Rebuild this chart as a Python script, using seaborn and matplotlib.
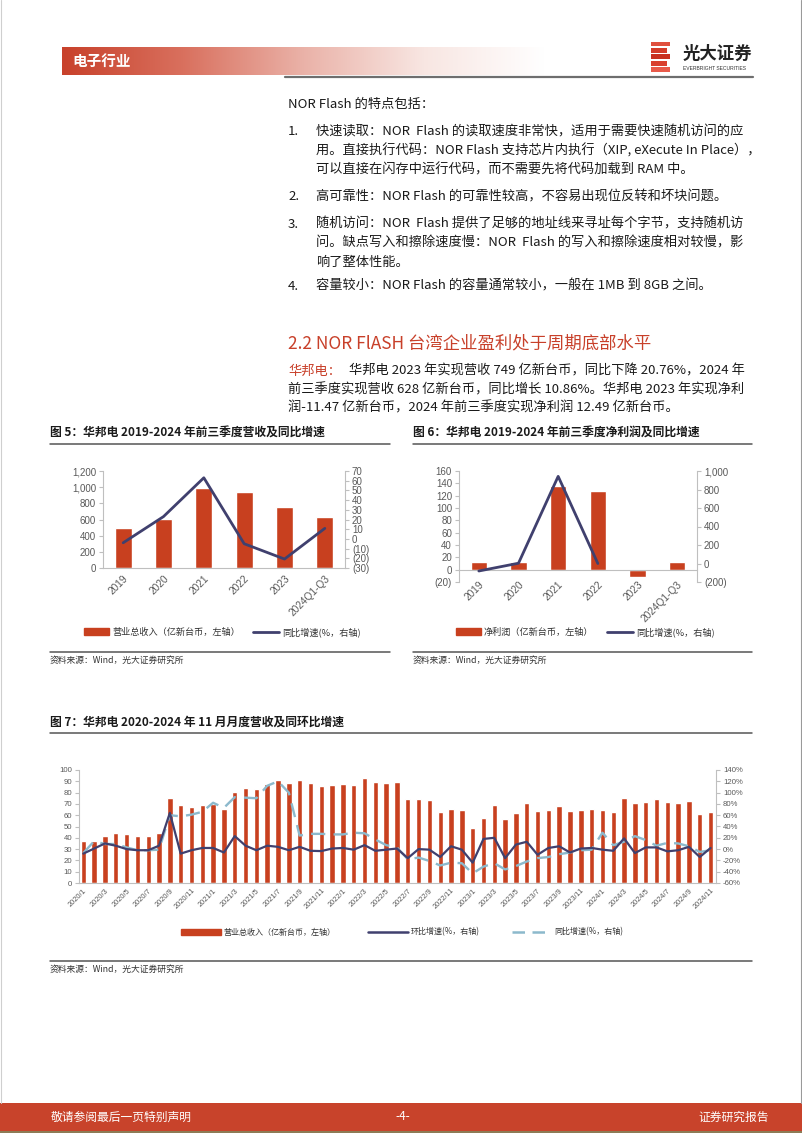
import numpy as np
import pandas as pd
import seaborn as sns
import matplotlib.pyplot as plt
from matplotlib.ticker import FuncFormatter
from matplotlib.lines import Line2D
from matplotlib.patches import Patch, Rectangle
from matplotlib.colors import LinearSegmentedColormap

sns.set_style('white')
plt.rcParams['font.family'] = ['Noto Sans CJK SC', 'DejaVu Sans']

W, H = 802, 1133
RED = '#c8401f'
NAVY = '#40406e'
LBLUE = '#8cb9cc'
AXC = '#bfbfbf'
TICKC = '#595959'
TXT = '#1a1a1a'
LATIN = ['Liberation Sans', 'Noto Sans CJK SC']

# ---- data ----
years = ['2019', '2020', '2021', '2022', '2023', '2024Q1-Q3']
revenue = [492, 607, 992, 943, 749, 628]                 # 亿新台币
revenue_yoy = [-4, 23, 63, -5, -20.76, 10.86]            # %
profit = [12, 12, 135, 128, -11.47, 12.49]               # 亿新台币
profit_yoy = [-81, 3, 942, 0]                            # %, 2019-2022 only

months = [f'{y}/{m}' for y in range(2020, 2025) for m in range(1, 13)][:59]
monthly_rev = [37.2, 37.5, 41.6, 44.0, 43.0, 41.6, 41.6, 44.5, 75.5, 69.0, 67.3, 68.7,
               69.6, 65.2, 80.5, 84.0, 83.2, 88.0, 91.2, 88.7, 91.2, 88.8, 86.2, 86.8,
               87.7, 86.7, 92.7, 89.4, 88.4, 89.4, 74.4, 74.4, 73.2, 62.5, 65.4, 64.8,
               49.0, 57.5, 69.3, 56.9, 61.6, 70.4, 63.3, 64.8, 67.7, 63.6, 64.2, 65.4,
               64.8, 62.8, 75.4, 70.4, 72.1, 74.2, 71.6, 70.4, 73.0, 61.3, 62.5]
monthly_mom = [-8, 1, 10, 6, 0, -2, -2, 6, 64, -8, -2, 2,
               2, -6, 23, 6, -2, 6, 4, -2, 4, -3, -3.5, 1,
               2, -1, 7, -3, -1, 1, -16, 0, -1, -14, 5, -1,
               -24, 18, 20, -16, 8, 13, -10, 2, 5, -6, 1, 2,
               -1, -3, 19, -7, 3, 3, -4, -2, 4, -14, 2]
monthly_yoy = [-7, 14, 9, 9, 3, -2, -2, -1, 60, 58, 61, 66,
               82, 73, 92, 91, 90, 112, 120, 100, 24, 27, 27, 26,
               26, 29, 28, 17, 7, 3, -18, -15, -21, -29, -24, -25,
               -43, -31, -25, -36, -30, -22, -16, -14, -9, -6, -2, -1,
               29, 7, 13, 23, 16, 6, 11, 10, 5, -5, -2]

fig = plt.figure(figsize=(W / 100, H / 100), dpi=100)


def rect(l, t, r, b):
    return [l / W, 1 - b / H, (r - l) / W, (b - t) / H]


def put(x, y, s, size=9.5, color=TXT, weight='normal', ha='left', va='center', **kw):
    fig.text(x / W, 1 - y / H, s, fontsize=size, color=color, fontweight=weight,
             ha=ha, va=va, **kw)


def hline(x0, x1, y, color='#555555', lw=1.1):
    fig.add_artist(Line2D([x0 / W, x1 / W], [1 - y / H, 1 - y / H],
                          transform=fig.transFigure, color=color, lw=lw))


# ---- page header ----
gax = fig.add_axes(rect(62, 47, 545, 75))
hdr = LinearSegmentedColormap.from_list('hdr', ['#c8412b', '#d9705e', '#eab2a8', '#f8e6e2', '#ffffff'])
gax.imshow(np.linspace(0, 1, 256)[None, :], aspect='auto', cmap=hdr, extent=[0, 1, 0, 1])
gax.axis('off')
put(72, 61, '电子行业', size=10.5, color='white', weight='bold')
hline(285, 753, 77, color='#6e6e6e', lw=1.6)

# logo
lax = fig.add_axes(rect(651, 41, 670, 73))
lax.set_xlim(0, 1)
lax.set_ylim(0, 1)
lax.axis('off')
shades = ['#e85a4a', '#d9402e', '#c8301f', '#d43c2a', '#e0503e']
for i, c in enumerate(shades):
    lax.add_patch(Rectangle((0, i * 0.2 + 0.03), 0.85 if i % 2 else 1.0, 0.15, color=c, lw=0))
put(683, 54, '光大证券', size=12.5, weight='bold', color='#222222')
put(683, 69, 'EVERBRIGHT SECURITIES', size=3.6, color='#333333', family=LATIN)

# page frame + footer
fig.add_artist(Line2D([800.5 / W] * 2, [1 - 1103 / H, 1], transform=fig.transFigure,
                      color='#9a9a9a', lw=0.8))
fig.add_artist(Line2D([0.6 / W] * 2, [1 - 1103 / H, 1], transform=fig.transFigure,
                      color='#cfcfcf', lw=0.8))
fig.add_artist(Rectangle((0, 1 - 1131 / H), 1, 28 / H, transform=fig.transFigure,
                         color='#c8432b', lw=0))
fig.add_artist(Rectangle((0, 0), 1, 2 / H, transform=fig.transFigure,
                         color='#8c7b55', lw=0))
put(51, 1117, '敬请参阅最后一页特别声明', size=8.5, color='white')
put(403, 1117, '-4-', size=8.5, color='white', ha='center')
put(769, 1117, '证券研究报告', size=8.5, color='white', ha='right')

# ---- body text ----
put(288, 104, 'NOR Flash 的特点包括：')
items = [
    (132, '1.', ['快速读取：NOR  Flash 的读取速度非常快，适用于需要快速随机访问的应',
                 '用。直接执行代码：NOR Flash 支持芯片内执行（XIP, eXecute In Place），',
                 '可以直接在闪存中运行代码，而不需要先将代码加载到 RAM 中。']),
    (197, '2.', ['高可靠性：NOR Flash 的可靠性较高，不容易出现位反转和坏块问题。']),
    (224, '3.', ['随机访问：NOR  Flash 提供了足够的地址线来寻址每个字节，支持随机访',
                 '问。缺点写入和擦除速度慢：NOR  Flash 的写入和擦除速度相对较慢，影',
                 '响了整体性能。']),
    (286, '4.', ['容量较小：NOR Flash 的容量通常较小，一般在 1MB 到 8GB 之间。']),
]
for y0, num, lines in items:
    put(288, y0, num)
    for k, ln in enumerate(lines):
        put(316, y0 + k * 19, ln)

put(288, 343, '2.2 NOR FlASH 台湾企业盈利处于周期底部水平', size=12.5, color='#c8402a')
put(288, 371, '华邦电：', color='#c8402a')
put(349, 371, '华邦电 2023 年实现营收 749 亿新台币，同比下降 20.76%，2024 年')
put(288, 390, '前三季度实现营收 628 亿新台币，同比增长 10.86%。华邦电 2023 年实现净利')
put(288, 408, '润-11.47 亿新台币，2024 年前三季度实现净利润 12.49 亿新台币。')

# ---- helpers for charts ----
paren = FuncFormatter(lambda v, p: f'({abs(v):,.0f})' if v < 0 else f'{v:,.0f}')
pct = FuncFormatter(lambda v, p: f'{v:.0f}%')


def style(ax, axr, n, fs, zero_axis=False, xpad=2):
    for a in (ax, axr):
        for s in a.spines.values():
            s.set_visible(False)
        a.set_xlabel('')
        a.set_ylabel('')
    for side, a in (('left', ax), ('bottom', ax), ('right', axr)):
        a.spines[side].set_visible(True)
        a.spines[side].set_color(AXC)
        a.spines[side].set_linewidth(0.8)
    if zero_axis:
        ax.spines['bottom'].set_position(('data', 0))
    ax.tick_params(axis='y', length=3, width=0.8, color=AXC, labelsize=fs,
                   labelcolor=TICKC, pad=2)
    axr.tick_params(axis='y', length=3, width=0.8, color=AXC, labelsize=fs,
                    labelcolor=TICKC, pad=2)
    ax.set_xticks(np.arange(-0.5, n, 1), minor=True)
    ax.tick_params(axis='x', which='major', length=0, pad=xpad)
    ax.tick_params(axis='x', which='minor', length=3, width=0.8, color=AXC)
    for lab in ax.get_yticklabels() + axr.get_yticklabels():
        lab.set_fontfamily(LATIN)


def xlabels(ax, ticks, labels, fs):
    ax.set_xticks(ticks)
    ax.set_xticklabels(labels, rotation=45, ha='right', va='top', rotation_mode='anchor',
                       fontsize=fs, color=TICKC, family=LATIN)


def legend(handles, labels, x, y, fs, hl=2.8, cs=1.5):
    fig.legend(handles, labels, loc='center', bbox_to_anchor=(x / W, 1 - y / H),
               ncol=len(handles), frameon=False, fontsize=fs, handlelength=hl,
               handleheight=0.75, handletextpad=0.3, columnspacing=cs,
               labelcolor='#333333')


# ---- Figure 5 ----
put(50, 433, '图 5：华邦电 2019-2024 年前三季度营收及同比增速', size=8.5, weight='bold')
hline(50, 390, 444)
pos = np.arange(len(years))
ax5 = fig.add_axes(rect(103, 471, 345, 568))
sns.barplot(x=pos, y=revenue, color=RED, saturation=1, width=0.42, ax=ax5)
ax5b = ax5.twinx()
sns.lineplot(x=pos, y=revenue_yoy, color=NAVY, lw=2.0, sort=False, ax=ax5b)
ax5.set_ylim(0, 1200)
ax5b.set_ylim(-30, 70)
ax5.set_yticks(range(0, 1201, 200))
ax5b.set_yticks(range(-30, 71, 10))
ax5.yaxis.set_major_formatter(paren)
ax5b.yaxis.set_major_formatter(paren)
ax5.set_xlim(-0.5, 5.5)
style(ax5, ax5b, len(years), 7, xpad=4)
xlabels(ax5, pos, years, 7.3)
legend([Patch(color=RED), Line2D([], [], color=NAVY, lw=2)],
       ['营业总收入（亿新台币，左轴）', '同比增速(%，右轴)'], 222, 632, 6.6)
hline(50, 390, 652)
put(50, 660, '资料来源：Wind，光大证券研究所', size=6.3, color='#333333')

# ---- Figure 6 ----
put(413, 433, '图 6：华邦电 2019-2024 年前三季度净利润及同比增速', size=8.5, weight='bold')
hline(413, 752, 444)
ax6 = fig.add_axes(rect(459, 471, 697, 582))
sns.barplot(x=pos, y=profit, color=RED, saturation=1, width=0.42, ax=ax6)
ax6b = ax6.twinx()
sns.lineplot(x=pos[:len(profit_yoy)], y=profit_yoy, color=NAVY, lw=2.0, sort=False, ax=ax6b)
ax6.set_ylim(-20, 160)
ax6b.set_ylim(-200, 1000)
ax6.set_yticks(range(-20, 161, 20))
ax6b.set_yticks(range(-200, 1001, 200))
ax6.yaxis.set_major_formatter(paren)
ax6b.yaxis.set_major_formatter(paren)
ax6.set_xlim(-0.5, 5.5)
style(ax6, ax6b, len(years), 7, zero_axis=True, xpad=7)
xlabels(ax6, pos, years, 7.3)
legend([Patch(color=RED), Line2D([], [], color=NAVY, lw=2)],
       ['净利润（亿新台币，左轴）', '同比增速(%，右轴)'], 585, 632, 6.6)
hline(413, 752, 652)
put(413, 660, '资料来源：Wind，光大证券研究所', size=6.3, color='#333333')

# ---- Figure 7 ----
put(50, 722, '图 7：华邦电 2020-2024 年 11 月月度营收及同环比增速', size=8.5, weight='bold')
hline(50, 752, 733)
mpos = np.arange(len(months))
ax7 = fig.add_axes(rect(79, 770, 716, 883))
sns.barplot(x=mpos, y=monthly_rev, color=RED, saturation=1, width=0.5, ax=ax7)
ax7b = ax7.twinx()
sns.lineplot(x=mpos, y=monthly_yoy, color=LBLUE, lw=1.7, linestyle=(0, (6, 3.5)),
             sort=False, ax=ax7b)
sns.lineplot(x=mpos, y=monthly_mom, color=NAVY, lw=1.6, sort=False, ax=ax7b)
ax7.set_ylim(0, 100)
ax7b.set_ylim(-60, 140)
ax7.set_yticks(range(0, 101, 10))
ax7b.set_yticks(range(-60, 141, 20))
ax7b.yaxis.set_major_formatter(pct)
ax7.set_xlim(-0.4, 58.5)
style(ax7, ax7b, len(months), 5.6, xpad=3)
xlabels(ax7, mpos[::2], months[::2], 5.3)
ax7.set_xlim(-0.4, 58.5)
legend([Patch(color=RED), Line2D([], [], color=NAVY, lw=1.8),
        Line2D([], [], color=LBLUE, lw=1.8, linestyle=(0, (5, 3)))],
       ['营业总收入（亿新台币，左轴）', '环比增速(%，右轴)', '同比增速(%，右轴)'],
       402, 932, 5.8, hl=5.0, cs=4.0)
hline(50, 752, 961)
put(50, 969, '资料来源：Wind，光大证券研究所', size=6.3, color='#333333')

fig.savefig('out.png', dpi=100)
